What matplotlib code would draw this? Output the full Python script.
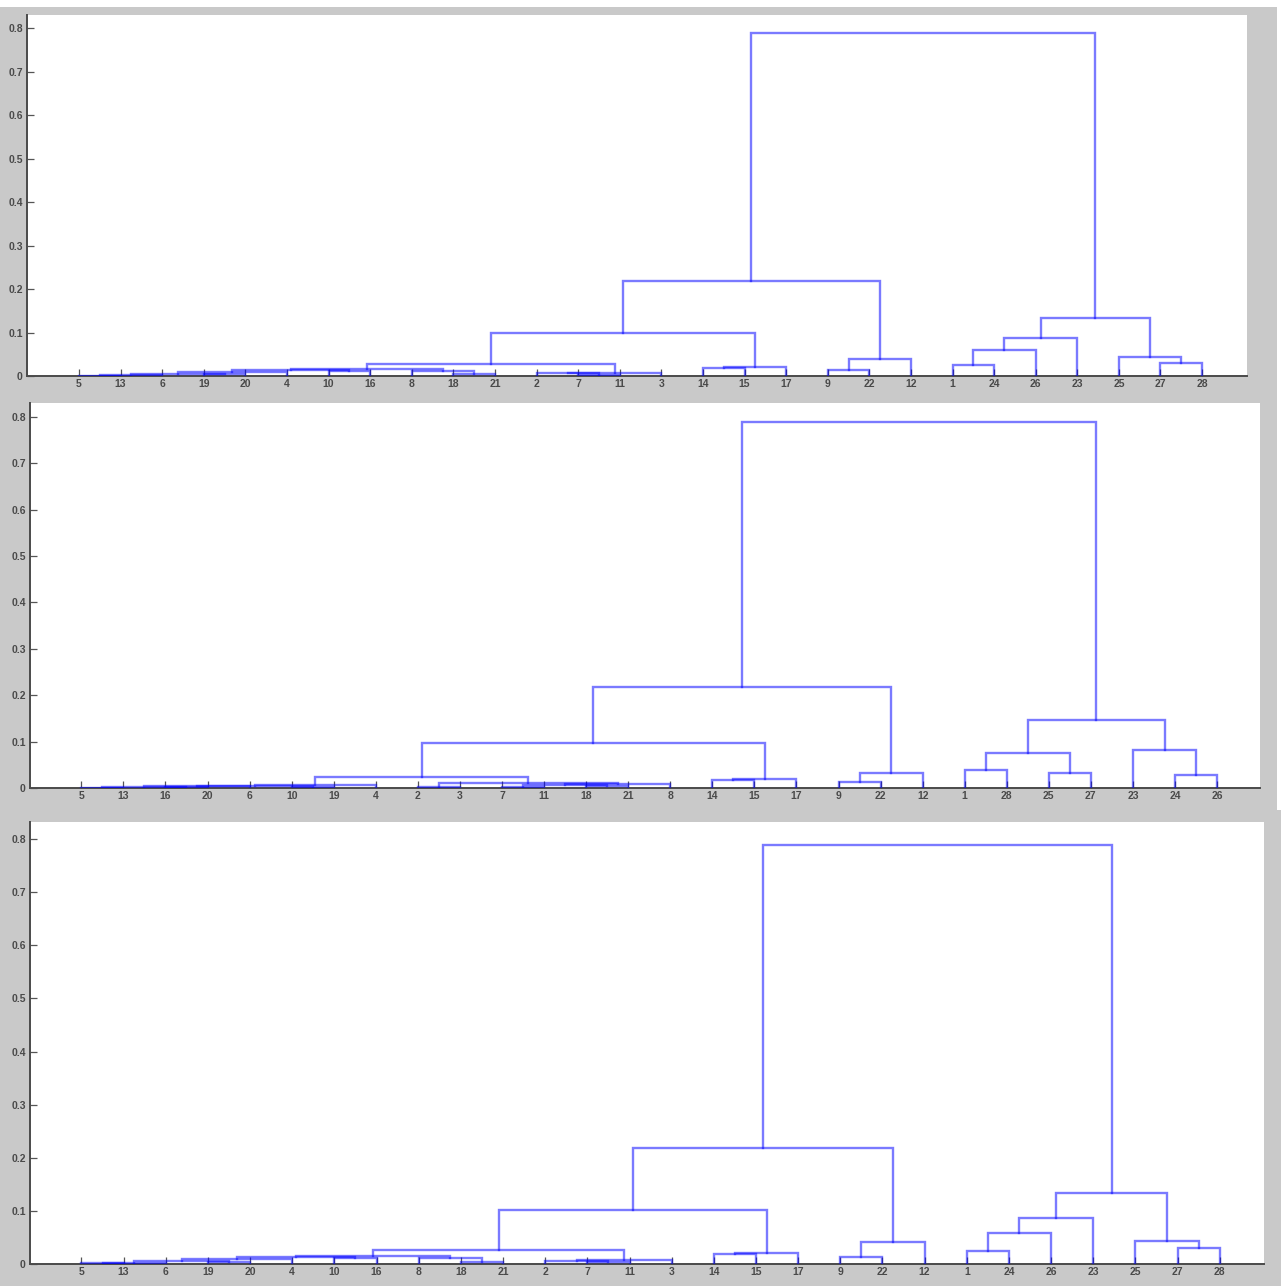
import matplotlib
matplotlib.use("Agg")
import matplotlib.pyplot as plt
from matplotlib.patches import Rectangle

# ---------------- data ----------------
# leaf order (left to right) of each dendrogram
panel1_leaves = [5, 13, 6, 19, 20, 4, 10, 16, 8, 18, 21, 2, 7, 11, 3,
                 14, 15, 17, 9, 22, 12, 1, 24, 26, 23, 25, 27, 28]
panel2_leaves = [5, 13, 16, 20, 6, 10, 19, 4, 2, 3, 7, 11, 18, 21, 8,
                 14, 15, 17, 9, 22, 12, 1, 28, 25, 27, 23, 24, 26]
panel3_leaves = [5, 13, 6, 19, 20, 4, 10, 16, 8, 18, 21, 2, 7, 11, 3,
                 14, 15, 17, 9, 22, 12, 1, 24, 26, 23, 25, 27, 28]

# linkage rows (MATLAB style): cluster ids 1..28 are leaves, merges get ids 29, 30, ...
panel1_left = [5, 29, 19, 30, 32, 10, 33, 18, 8, 35, 7, 2, 40, 38,
               14, 43, 42, 9, 46, 45, 1, 49, 50, 27, 25, 51, 48]
panel1_right = [13, 6, 20, 31, 4, 16, 34, 21, 36, 37, 11, 39, 3, 41,
                15, 17, 44, 22, 12, 47, 24, 26, 23, 28, 52, 53, 54]
panel1_height = [0.001, 0.002, 0.004, 0.005, 0.010, 0.012, 0.013, 0.004, 0.011, 0.015,
                 0.003, 0.006, 0.008, 0.027, 0.019, 0.021, 0.100, 0.014, 0.040, 0.218,
                 0.025, 0.059, 0.087, 0.031, 0.044, 0.133, 0.788]

panel2_left = [5, 16, 29, 31, 10, 32, 34, 2, 7, 18, 37, 39, 36, 35,
               14, 43, 42, 9, 46, 45, 1, 25, 49, 24, 23, 51, 48]
panel2_right = [13, 20, 30, 6, 19, 33, 4, 3, 11, 21, 38, 8, 40, 41,
                15, 17, 44, 22, 12, 47, 28, 27, 50, 26, 52, 53, 54]
panel2_height = [0.001, 0.002, 0.003, 0.004, 0.002, 0.005, 0.006, 0.003, 0.003, 0.005,
                 0.007, 0.009, 0.011, 0.024, 0.017, 0.020, 0.097, 0.014, 0.033, 0.217,
                 0.039, 0.032, 0.076, 0.028, 0.083, 0.146, 0.790]

panel3_left = [5, 29, 19, 30, 32, 10, 33, 18, 8, 35, 7, 2, 40, 38,
               14, 43, 42, 9, 46, 45, 1, 49, 50, 27, 25, 51, 48]
panel3_right = [13, 6, 20, 31, 4, 16, 34, 21, 36, 37, 11, 39, 3, 41,
                15, 17, 44, 22, 12, 47, 24, 26, 23, 28, 52, 53, 54]
panel3_height = [0.001, 0.002, 0.004, 0.005, 0.010, 0.012, 0.013, 0.004, 0.011, 0.015,
                 0.003, 0.006, 0.008, 0.027, 0.019, 0.021, 0.101, 0.014, 0.041, 0.219,
                 0.025, 0.059, 0.087, 0.031, 0.044, 0.133, 0.789]

y_ticks = [0, 0.1, 0.2, 0.3, 0.4, 0.5, 0.6, 0.7, 0.8]
y_tick_labels = ["0", "0.1", "0.2", "0.3", "0.4", "0.5", "0.6", "0.7", "0.8"]

# ---------------- layout ----------------
W, H = 1281, 1286
fig = plt.figure(figsize=(W / 100, H / 100), dpi=100)
fig.patch.set_facecolor("#c9c9c9")

def frect(x0, y0, x1, y1, color):
    fig.add_artist(Rectangle((x0 / W, 1 - y1 / H), (x1 - x0) / W, (y1 - y0) / H,
                             transform=fig.transFigure, facecolor=color,
                             edgecolor="none", zorder=0))

frect(0, 0, W, 7, "white")
frect(1277, 0, W, 397, "white")
frect(1277, 397, W, 810, "white")

panels = [
    # leaves, left, right, heights, (left, right, top, bottom) px, xlim, ylim-top
    (panel1_leaves, panel1_left, panel1_right, panel1_height, (27, 1247, 15, 376), (-0.25, 29.08), 0.83),
    (panel2_leaves, panel2_left, panel2_right, panel2_height, (30, 1260, 403, 788), (-0.22, 29.02), 0.83),
    (panel3_leaves, panel3_left, panel3_right, panel3_height, (30, 1264, 822, 1264), (-0.22, 29.05), 0.832),
]

for leaves, lefts, rights, heights, (pl, pr, pt, pb), xl, ytop in panels:
    ax = fig.add_axes([pl / W, 1 - pb / H, (pr - pl) / W, (pb - pt) / H])
    ax.set_facecolor("white")
    n = len(leaves)
    xpos = {leaf: i + 1 for i, leaf in enumerate(leaves)}
    ypos = {leaf: 0.0 for leaf in leaves}
    for k, (a, b, h) in enumerate(zip(lefts, rights, heights)):
        cid = n + 1 + k
        xa, xb = xpos[a], xpos[b]
        ya, yb = ypos[a], ypos[b]
        ax.plot([xa, xa, xb, xb], [ya, h, h, yb], color=(0.0, 0.0, 1.0),
                alpha=0.52, lw=1.7, solid_joinstyle="miter", zorder=3)
        xpos[cid] = (xa + xb) / 2
        ypos[cid] = h
    ax.set_xlim(*xl)
    ax.set_ylim(0, ytop)
    ax.set_xticks(range(1, n + 1))
    ax.set_xticklabels([str(v) for v in leaves])
    ax.set_yticks(y_ticks)
    ax.set_yticklabels(y_tick_labels)
    for s in ("top", "right"):
        ax.spines[s].set_visible(False)
    for s in ("left", "bottom"):
        ax.spines[s].set_color("#4a4a4a")
        ax.spines[s].set_linewidth(1.4)
    ax.tick_params(direction="in", length=5, width=0.9, color="#555555",
                   labelsize=7.5, labelcolor="#4a4a4a", pad=3)
    ax.tick_params(axis="x", pad=2)
    for lab in ax.get_xticklabels() + ax.get_yticklabels():
        lab.set_family(["Liberation Sans", "DejaVu Sans"])
        lab.set_fontweight("bold")

fig.savefig("out.png", dpi=100, facecolor=fig.get_facecolor())
